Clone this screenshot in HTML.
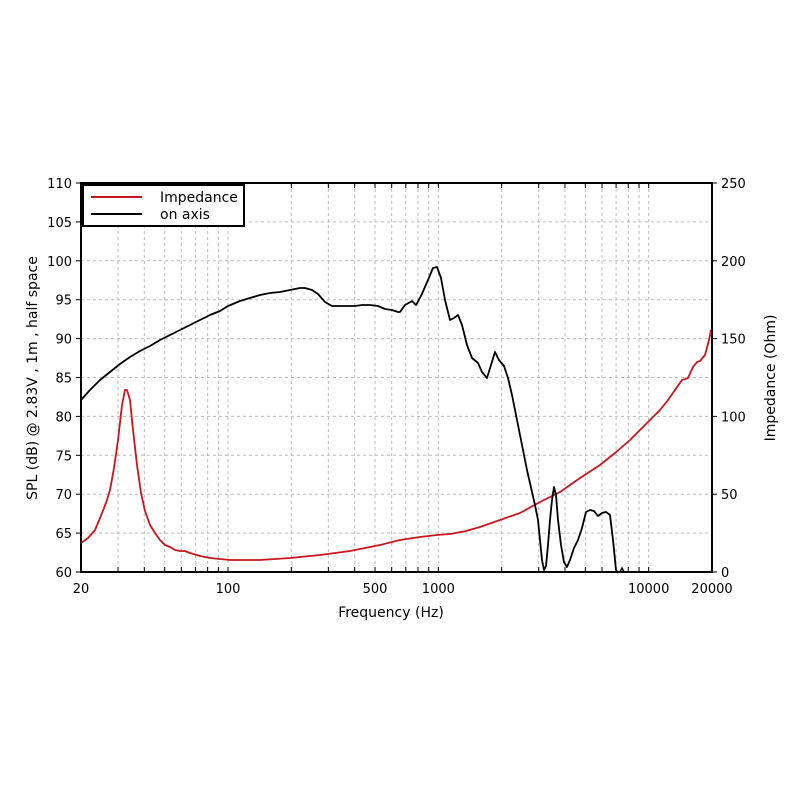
<!DOCTYPE html>
<html><head><style>body{margin:0;background:#fff}svg text{font-family:"DejaVu Sans","Liberation Sans",sans-serif;fill:#000}</style></head>
<body>
<svg width="800" height="800" viewBox="0 0 800 800" xmlns="http://www.w3.org/2000/svg">
<rect width="800" height="800" fill="#fff"/>
<g id="grid" stroke="#bbb" stroke-width="1" stroke-dasharray="3,3"></g>
<polyline fill="none" stroke="#c8161b" stroke-width="1.8" stroke-linejoin="round" points="81,543 88,538 95,530 100,518 104,508 107,500 110,490 114,468 118,440 122,405 125,390 127,390 130,400 133,430 137,465 141,493 145,511 150,525 155,533 160,540 165,545 170,547 175,550 180,551 185,551 190,553 200,556 210,558 230,560 260,560 290,558 320,555 350,551 380,545 400,540 420,537 437,535 450,534 466,531 480,527 500,520 520,513 540,502 560,492 580,478 600,465 615,453 630,440 640,430 650,420 660,410 668,400 675,390 682,380 688,378 693,367 697,362 700,361 705,355 709,340 711,330"/>
<polyline fill="none" stroke="#000" stroke-width="1.8" stroke-linejoin="round" points="81,400 90,390 100,380 110,372 120,364 130,357 140,351 150,346 160,340 170,335 180,330 190,325 200,320 210,315 220,311 228,306 240,301 250,298 260,295 270,293 280,292 290,290 300,288 305,288 312,290 318,294 325,302 332,306 340,306 350,306 355,306 362,305 370,305 378,306 385,309 392,310 398,312 400,312 405,305 412,301 416,305 421,296 428,280 433,268 437,267 441,278 445,300 450,320 454,318 458,315 462,325 467,345 472,358 478,363 482,372 487,378 491,365 495,352 499,360 504,366 508,378 512,395 517,420 522,445 527,470 532,492 535,505 538,520 540,540 542,560 544,570 546,566 548,545 550,520 552,500 554,487 556,495 558,520 561,545 564,562 567,567 570,560 574,548 578,540 582,528 586,512 590,510 594,511 598,516 602,513 606,512 610,515 613,540 616,570 618,573"/>
<polyline fill="none" stroke="#000" stroke-width="1.5" points="620,572 622,568 624,572"/>
<rect x="81" y="183" width="631" height="389" fill="none" stroke="#000" stroke-width="2"/>
<g id="ticks" stroke="#000" stroke-width="1"></g>
<rect x="83" y="185" width="161" height="41" fill="#fff" stroke="#000" stroke-width="2"/>
<line x1="91" y1="197" x2="142" y2="197" stroke="#c8161b" stroke-width="2"/>
<line x1="91" y1="214" x2="142" y2="214" stroke="#000" stroke-width="2"/>
<text x="160" y="202" font-size="14">Impedance</text>
<text x="160" y="219" font-size="14">on axis</text>
<g id="labels" font-size="13"></g>
<text x="391" y="617" font-size="14" text-anchor="middle">Frequency (Hz)</text>
<text transform="translate(37,378) rotate(-90)" font-size="14" text-anchor="middle">SPL (dB) @ 2.83V , 1m , half space</text>
<text transform="translate(775,378) rotate(-90)" font-size="14" text-anchor="middle">Impedance (Ohm)</text>
</svg>
<script>
const ns="http://www.w3.org/2000/svg";
const X=f=>81+Math.log10(f/20)*210.33;
const g=document.getElementById('grid'),t=document.getElementById('ticks'),l=document.getElementById('labels');
function line(p,a){const e=document.createElementNS(ns,'line');for(const k in a)e.setAttribute(k,a[k]);p.appendChild(e);}
function txt(x,y,s,anc){const e=document.createElementNS(ns,'text');e.setAttribute('x',x);e.setAttribute('y',y);e.setAttribute('text-anchor',anc);e.textContent=s;l.appendChild(e);}
for(const d of [10,100,1000,10000])for(let m=1;m<10;m++){const f=d*m;if(f<=20||f>=20000)continue;const x=X(f);line(g,{x1:x,y1:183,x2:x,y2:572});line(t,{x1:x,y1:183,x2:x,y2:188});line(t,{x1:x,y1:572,x2:x,y2:567});}
for(let i=0;i<=10;i++){const y=572-i*38.9;if(i>0&&i<10)line(g,{x1:81,y1:y,x2:712,y2:y});line(t,{x1:76,y1:y,x2:81,y2:y});txt(72,y+5,String(60+5*i),'end');}
for(let i=0;i<=5;i++){const y=572-i*77.8;line(t,{x1:712,y1:y,x2:717,y2:y});txt(721,y+5,String(50*i),'start');}
[[20,'20'],[100,'100'],[500,'500'],[1000,'1000'],[10000,'10000'],[20000,'20000']].forEach(([f,s])=>txt(X(f),593,s,'middle'));
</script>
</body></html>
